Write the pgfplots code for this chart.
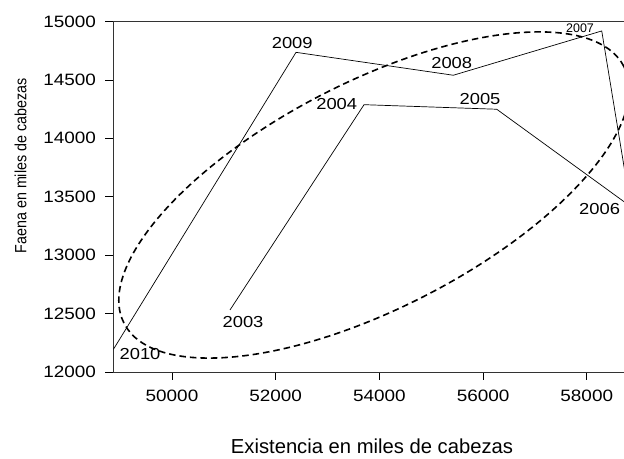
\documentclass[border=0pt]{standalone}
\usepackage{fontspec}
\setmainfont{Liberation Sans}
\newfontfamily\labfont[FakeStretch=1.15]{Liberation Sans}
\newfontfamily\ylabfont[FakeStretch=0.88]{Liberation Sans}
\usepackage{pgfplots}
\pgfplotsset{compat=1.18}
\begin{document}
\begin{tikzpicture}
\begin{axis}[
  scale only axis, width=525.6bp, height=350.5bp,
  xmin=48862, xmax=59000, ymin=12000, ymax=15000,
  xtick={50000,52000,54000,56000,58000},
  ytick={12000,12500,13000,13500,14000,14500,15000},
  scaled ticks=false,
  /pgf/number format/1000 sep={},
  /pgf/number format/assume math mode=true,
  tick align=outside, xtick pos=bottom, ytick pos=left,
  major tick length=7.5bp,
  tick style={black, line width=0.8bp},
  axis line style={line width=0.9bp, black!80},
  ticklabel style={font=\labfont\fontsize{16.5}{20}\selectfont},
  xticklabel style={yshift=-7bp},
  yticklabel style={xshift=-6bp},
  xlabel={Existencia en miles de cabezas},
  ylabel={Faena en miles de cabezas},
  xlabel style={font=\fontsize{20.3}{24}\selectfont, at={(axis description cs:0.4928,-0.211)}, anchor=center},
  ylabel style={font=\ylabfont\fontsize{16.3}{19}\selectfont, at={(axis description cs:-0.176,0.588)}, anchor=center},
]
\addplot[black, line width=0.7bp, mark=none] coordinates {
  (51119,12531) (53704,14288) (56263,14249) (58845,13417)
  (58289,14919) (55426,14540) (52392,14736) (48870,12194)
};
\draw[black, line width=1.6bp, dash pattern=on 6.5bp off 4bp,
  rotate around={27.2:(axis cs:53897,13515)}]
  (axis cs:53897,13515) ellipse [x radius=281bp, y radius=113bp];
\node[font=\labfont\fontsize{16}{19}\selectfont] at (axis cs:52319,14818) {2009};
\node[font=\labfont\fontsize{16}{19}\selectfont] at (axis cs:55395,14642) {2008};
\node[font=\fontsize{12.5}{15}\selectfont] at (axis cs:57870,14946) {2007};
\node[font=\labfont\fontsize{16}{19}\selectfont] at (axis cs:53177,14294) {2004};
\node[font=\labfont\fontsize{16}{19}\selectfont] at (axis cs:55941,14334) {2005};
\node[font=\labfont\fontsize{16}{19}\selectfont] at (axis cs:58247,13395) {2006};
\node[font=\labfont\fontsize{16}{19}\selectfont] at (axis cs:51370,12425) {2003};
\node[font=\labfont\fontsize{16}{19}\selectfont] at (axis cs:49383,12151) {2010};
\end{axis}
\pgfresetboundingbox
\path[use as bounding box] (-113bp,-87bp) rectangle (511bp,372bp);
\end{tikzpicture}
\end{document}
